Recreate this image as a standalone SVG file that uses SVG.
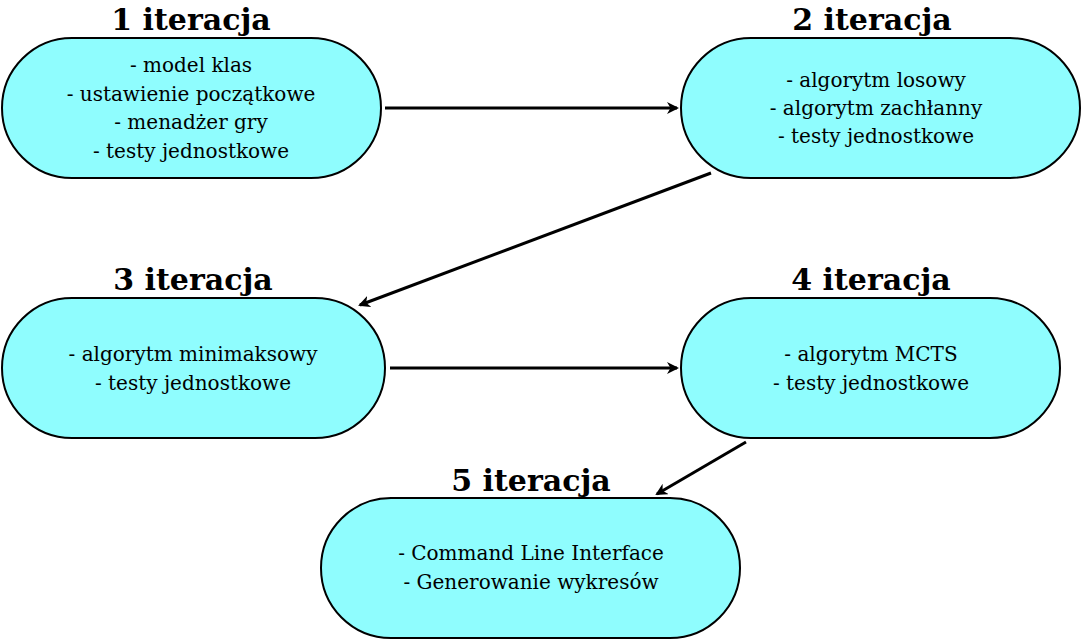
<svg xmlns="http://www.w3.org/2000/svg" width="1082" height="639" viewBox="0 0 1082 639">
<defs>
<style>
.node rect{fill:#8ffdfe;stroke:#000;stroke-width:2}
.hdr{font-family:"DejaVu Serif","Liberation Serif",serif;font-weight:bold;font-size:30px;text-anchor:middle;fill:#000}
.txt{font-family:"DejaVu Serif","Liberation Serif",serif;font-size:20px;text-anchor:middle;fill:#000}
.edge{stroke:#000;stroke-width:3;fill:none;marker-end:url(#ah)}
</style>
<marker id="ah" markerWidth="12" markerHeight="12" refX="10" refY="6" orient="auto" markerUnits="userSpaceOnUse" viewBox="0 0 12 12">
<path d="M0,0 L12,6 L0,12 L3.5,6 z" fill="#000"/>
</marker>
</defs>
<g id="connectors">
<line class="edge" x1="385" y1="108" x2="677" y2="108"/>
<line class="edge" x1="711" y1="173" x2="360" y2="305"/>
<line class="edge" x1="390" y1="368" x2="677" y2="368"/>
<line class="edge" x1="746" y1="442" x2="657" y2="494"/>
</g>
<g id="n1" class="node">
<rect x="2" y="38" width="379" height="140" rx="70" ry="70"/>
<text class="hdr" x="191" y="30">1 iteracja</text>
<text class="txt" x="191" y="72">- model klas</text>
<text class="txt" x="191" y="101">- ustawienie początkowe</text>
<text class="txt" x="191" y="129">- menadżer gry</text>
<text class="txt" x="191" y="158">- testy jednostkowe</text>
</g>
<g id="n2" class="node">
<rect x="681" y="38" width="399" height="140" rx="70" ry="70"/>
<text class="hdr" x="872" y="30">2 iteracja</text>
<text class="txt" x="876" y="87">- algorytm losowy</text>
<text class="txt" x="876" y="115">- algorytm zachłanny</text>
<text class="txt" x="876" y="143">- testy jednostkowe</text>
</g>
<g id="n3" class="node">
<rect x="2" y="298" width="383" height="140" rx="70" ry="70"/>
<text class="hdr" x="193" y="290">3 iteracja</text>
<text class="txt" x="193" y="361">- algorytm minimaksowy</text>
<text class="txt" x="193" y="390">- testy jednostkowe</text>
</g>
<g id="n4" class="node">
<rect x="681" y="298" width="379" height="140" rx="70" ry="70"/>
<text class="hdr" x="871" y="290">4 iteracja</text>
<text class="txt" x="871" y="361">- algorytm MCTS</text>
<text class="txt" x="871" y="390">- testy jednostkowe</text>
</g>
<g id="n5" class="node">
<rect x="321" y="498" width="419" height="140" rx="70" ry="70"/>
<text class="hdr" x="531" y="491">5 iteracja</text>
<text class="txt" x="531" y="560">- Command Line Interface</text>
<text class="txt" x="531" y="589">- Generowanie wykresów</text>
</g>
</svg>
